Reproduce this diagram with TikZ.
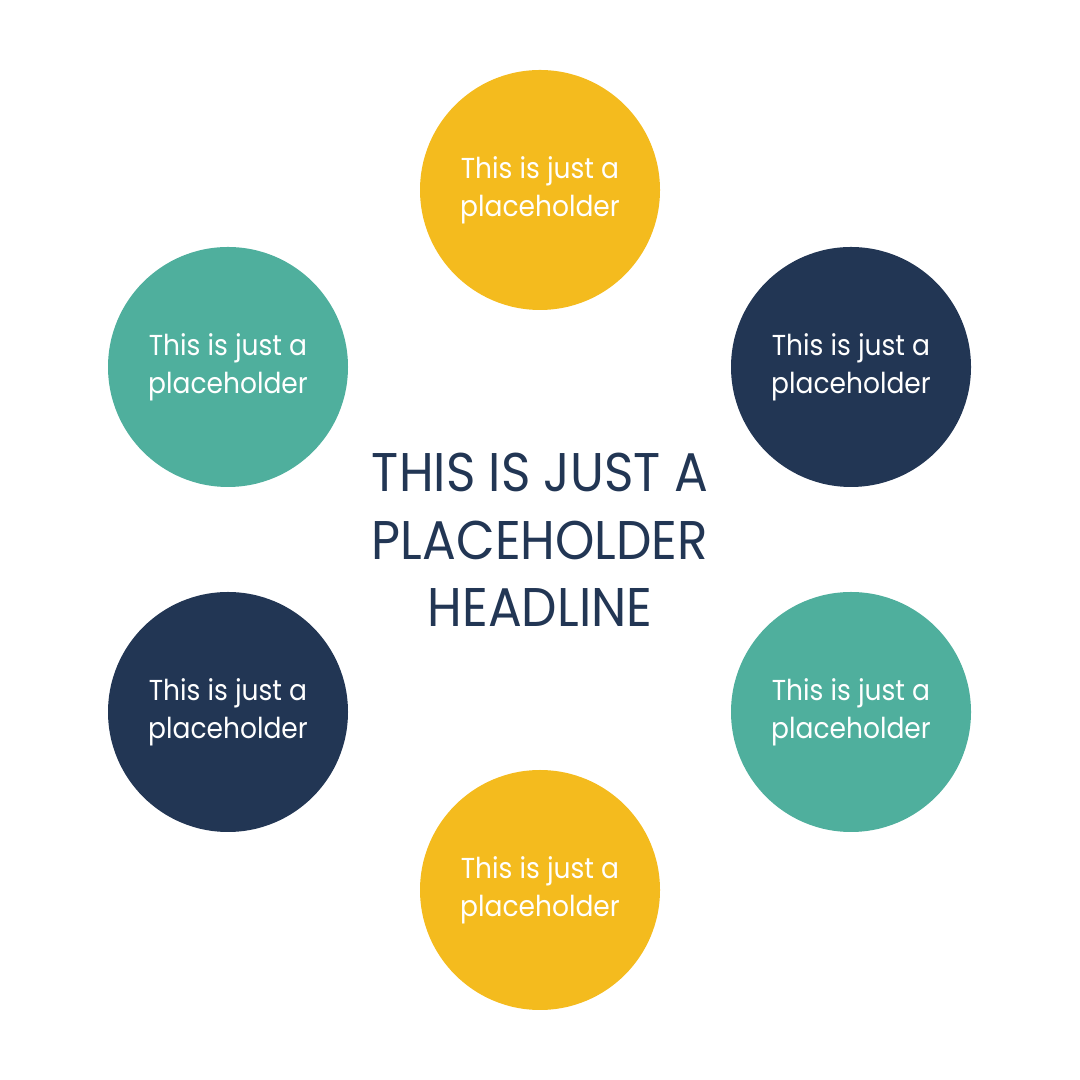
\documentclass[tikz,border=0pt]{standalone}
\usepackage{fontspec}
\setmainfont{Poppins}
\newfontfamily\slimfont[FakeStretch=0.92]{Poppins}
\usepackage{xcolor}
\usetikzlibrary{positioning}
\definecolor{sunyellow}{HTML}{F4BB1E}
\definecolor{deepnavy}{HTML}{223654}
\definecolor{seateal}{HTML}{4FAF9D}

\begin{document}
\begin{tikzpicture}[
    bubble/.style={circle, minimum size=2.4cm, inner sep=0pt, text=white,
                   align=center, font=\slimfont\fontsize{8.2pt}{10.8pt}\selectfont}]
    % Canvas
    \useasboundingbox (0,0) rectangle (10.8,10.8);

    % Headline
    \node[text=deepnavy, align=center, font=\slimfont\fontsize{15.5pt}{19.2pt}\selectfont] (head) at (5.40,5.40)
        {THIS IS JUST A\\PLACEHOLDER\\HEADLINE};

    % Circles
    \node[bubble, fill=sunyellow] (top) at (5.40,8.90) {This is just a\\placeholder};
    \node[bubble, fill=deepnavy] (topright) at (8.51,7.13) {This is just a\\placeholder};
    \node[bubble, fill=seateal] (botright) at (8.51,3.68) {This is just a\\placeholder};
    \node[bubble, fill=sunyellow] (bottom) at (5.40,1.90) {This is just a\\placeholder};
    \node[bubble, fill=deepnavy] (botleft) at (2.28,3.68) {This is just a\\placeholder};
    \node[bubble, fill=seateal] (topleft) at (2.28,7.13) {This is just a\\placeholder};
\end{tikzpicture}
\end{document}
